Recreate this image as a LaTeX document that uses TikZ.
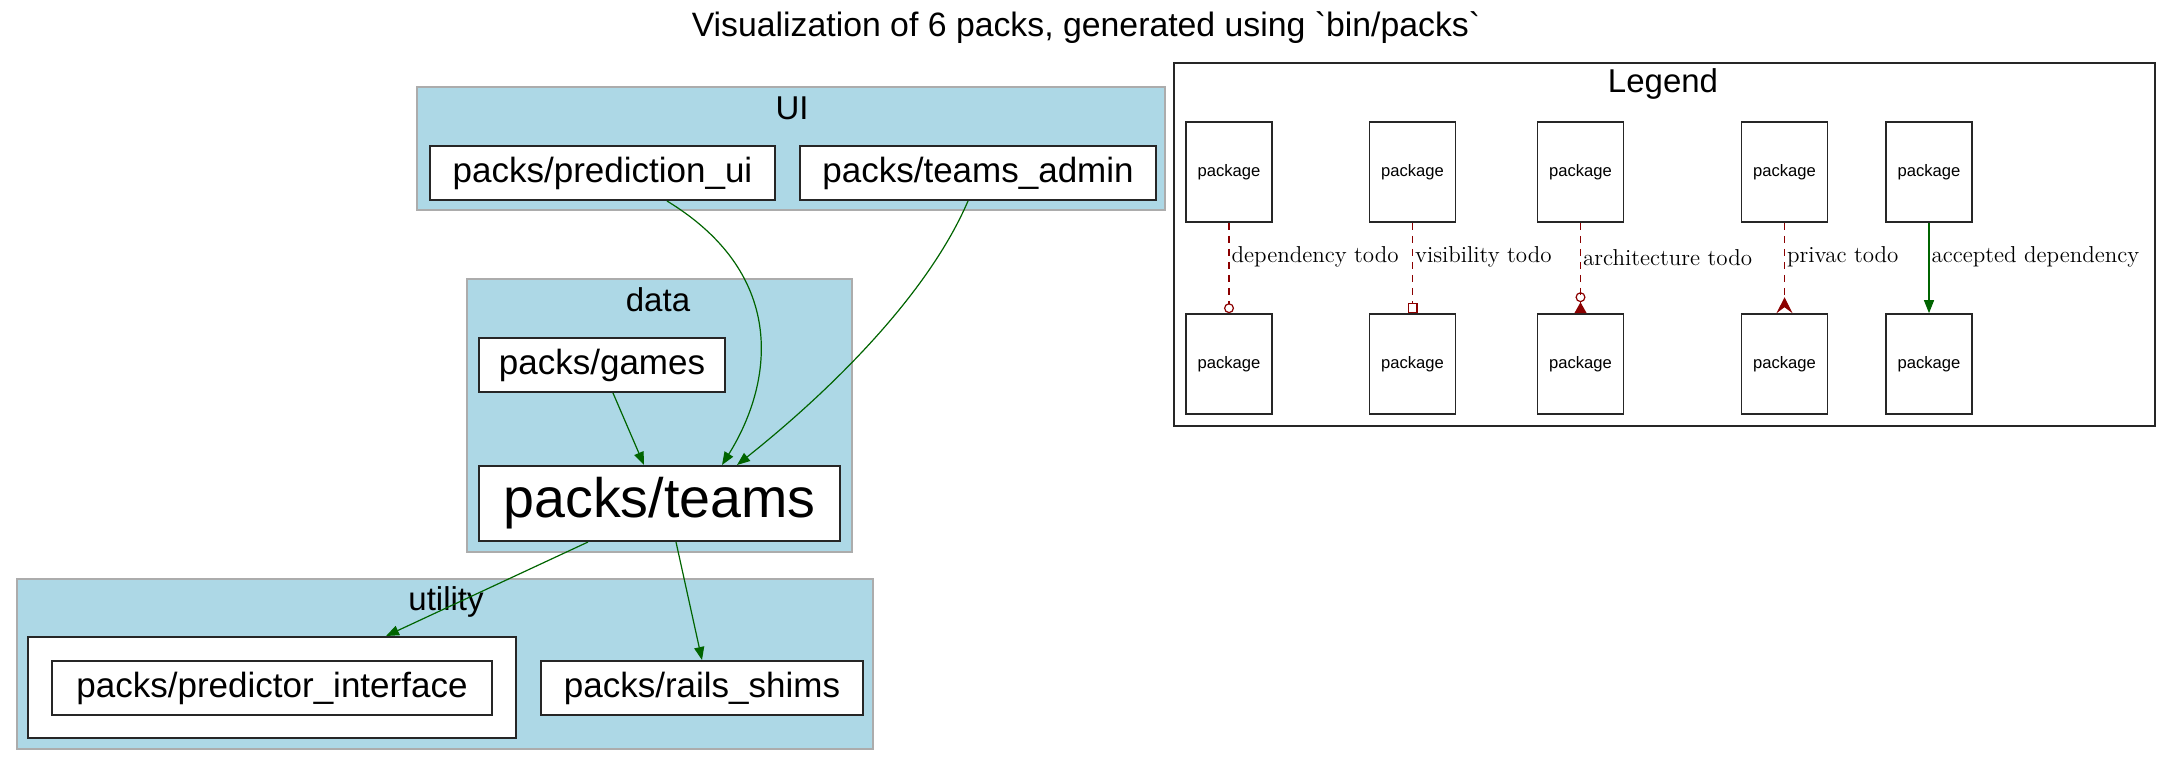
\documentclass[tikz,border=0pt]{standalone}
\usepackage{fontspec}
\setsansfont{Liberation Sans}[Ligatures=TeXOff]
\usetikzlibrary{arrows.meta}
\definecolor{clusterblue}{HTML}{ADD8E6}
\definecolor{okgreen}{HTML}{006400}
\definecolor{todored}{HTML}{8B0000}
\newcommand{\gravechar}{\symbol{"60}}
\begin{document}
\begin{tikzpicture}
[x=0.5pt,y=-0.5pt,
 cluster/.style={draw=gray!65,fill=clusterblue,line width=1pt,inner sep=0pt},
 clusterlabel/.style={font=\sffamily\fontsize{16.5}{18}\selectfont,inner sep=0pt},
 pack/.style={draw=black!85,fill=white,line width=1pt,inner sep=0pt,minimum height=27pt,font=\sffamily\fontsize{17.5}{20}\selectfont},
 legbox/.style={draw=black!85,fill=white,line width=0.8pt,inner sep=0pt,minimum width=43pt,minimum height=50pt,font=\sffamily\fontsize{8.3}{10}\selectfont},
 dep/.style={-{Triangle[length=6.5pt,width=5pt]},okgreen,line width=0.6pt},
 todo/.style={todored,line width=0.6pt,dash pattern=on 3.5pt off 3pt},
 lbl/.style={anchor=west,inner sep=1pt,text=black,font=\fontsize{11.5}{13}\selectfont}]
\useasboundingbox (0,0) rectangle (2171,766);

% title
\node [font=\sffamily\fontsize{16.9}{20}\selectfont,inner sep=0pt] (title) at (1086,28) {Visualization of 6 packs, generated using \gravechar bin/packs\gravechar};

% clusters
\node [cluster,minimum width=374pt,minimum height=61.5pt] (uicl) at (791,148.5) {};
\node [clusterlabel] (uilbl) at (792,108) {UI};
\node [cluster,minimum width=192.5pt,minimum height=136.5pt] (datacl) at (659.5,415.5) {};
\node [clusterlabel] (datalbl) at (658,300) {data};
\node [cluster,minimum width=428pt,minimum height=85pt] (utilcl) at (445,663.5) {};
\node [clusterlabel] (utillbl) at (446,602) {utility};

% packs
\node [pack,minimum width=172.5pt] at (602.5,173) (pu) {packs/prediction\_ui};
\node [pack,minimum width=178pt] at (978,173) (ta) {packs/teams\_admin};
\node [pack,minimum width=123pt] at (602,365) (games) {packs/games};
\node [pack,minimum width=180.5pt,minimum height=37.5pt,font=\sffamily\fontsize{27.8}{32}\selectfont] at (659.5,503.5) (teams) {packs/teams};
\node [pack,minimum width=244pt,minimum height=50.5pt] at (272,687.5) (piouter) {};
\node [pack,minimum width=220pt] at (272,688) (pi) {packs/predictor\_interface};
\node [pack,minimum width=161pt] at (702,688) (rails) {packs/rails\_shims};

% dependencies
\draw [dep] ([xshift=32.25pt]pu.south) .. controls +(123,75) and +(50,-80) .. ([xshift=31.25pt]teams.north);
\draw [dep] ([xshift=-5pt]ta.south) .. controls +(-43,100) and +(83,-66) .. ([xshift=38.75pt]teams.north);
\draw [dep] ([xshift=5.5pt]games.south) -- ([xshift=-7.75pt]teams.north);
\draw [dep] ([xshift=-35.75pt]teams.south) -- ([xshift=57pt]piouter.north);
\draw [dep] ([xshift=8.25pt]teams.south) -- (rails.north);

% legend
\node [draw=black!85,fill=white,line width=0.8pt,inner sep=0pt,minimum width=490.5pt,minimum height=181.5pt] (legend) at (1664.5,244.5) {};
\node [clusterlabel] (leglbl) at (1663,84) {Legend};
\node [legbox] at (1229,172) (la) {package};
\node [legbox] at (1229,364) (lb) {package};
\node [legbox] at (1412.5,172) (lc) {package};
\node [legbox] at (1412.5,364) (ld) {package};
\node [legbox] at (1580.5,172) (le) {package};
\node [legbox] at (1580.5,364) (lf) {package};
\node [legbox] at (1784.5,172) (lg) {package};
\node [legbox] at (1784.5,364) (lh) {package};
\node [legbox] at (1929,172) (li) {package};
\node [legbox] at (1929,364) (lj) {package};

\draw [todo,-{Circle[open,length=5pt]}] (la) -- (lb) node [lbl,pos=0.38] {dependency todo};
\draw [todo,-{Square[open,length=5pt]}] (lc) -- (ld) node [lbl,pos=0.38] {visibility todo};
\draw [todo,-{Circle[open,length=5pt] Triangle[reversed,length=5.5pt,width=6pt]}] (le) -- (lf) node [lbl,pos=0.38] {architecture todo};
\draw [todo,-{Stealth[reversed,length=8pt,width=8pt,inset=3pt]}] (lg) -- (lh) node [lbl,pos=0.38] {privac todo};
\draw [dep] (li) -- (lj) node [lbl,pos=0.38] {accepted dependency};
\end{tikzpicture}
\end{document}
